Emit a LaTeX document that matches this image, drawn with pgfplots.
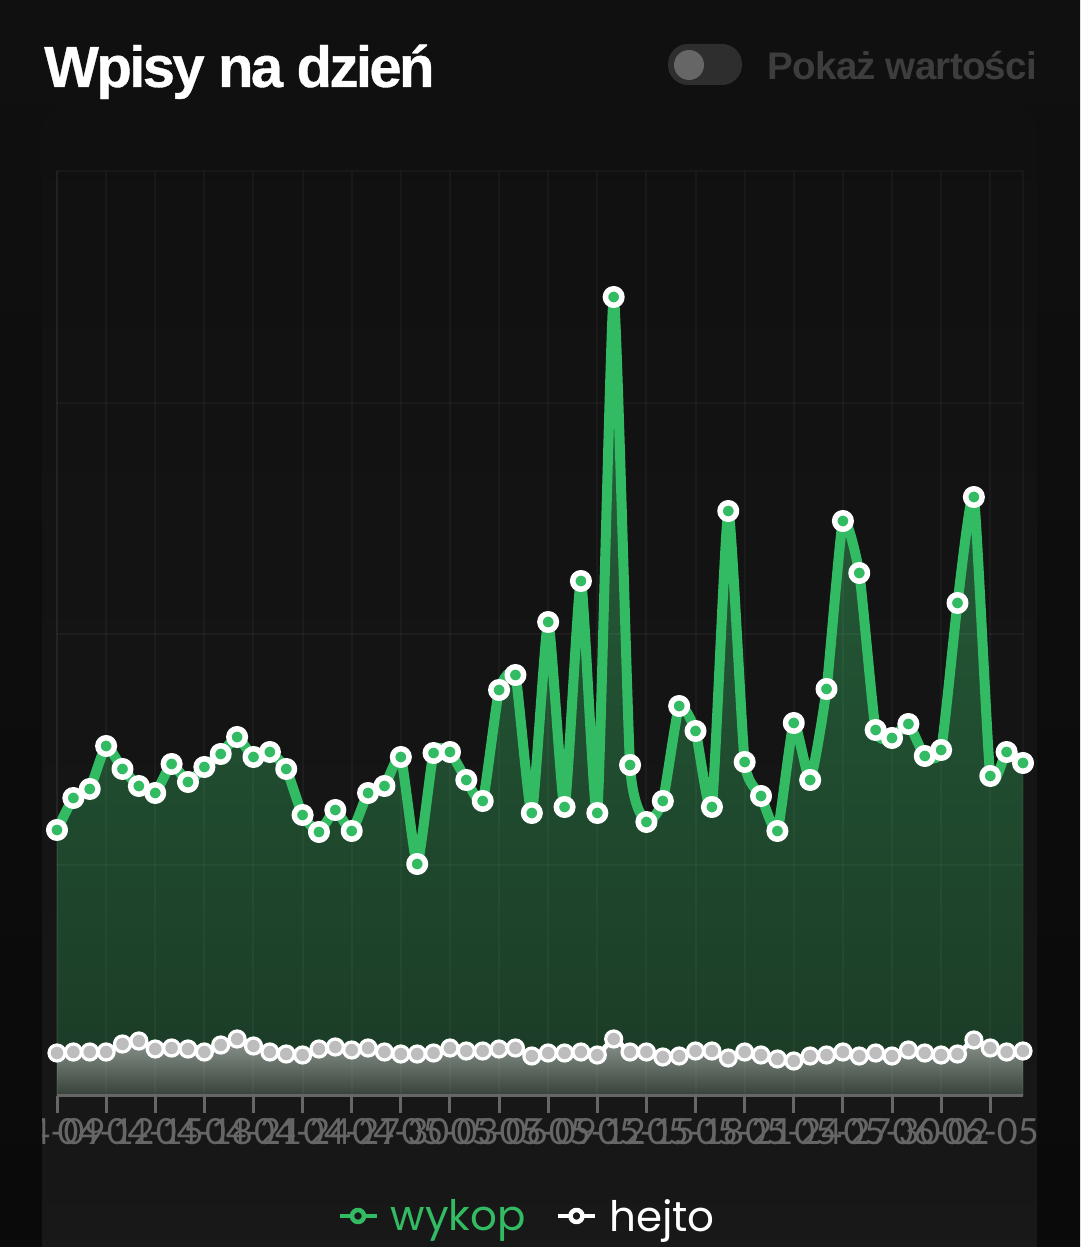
\documentclass[border=0pt]{standalone}
\usepackage{fontspec}
\usepackage{pgfplots}
\usepackage{pgfplotstable}
\pgfplotsset{compat=1.18}
\setmainfont{Lato}
\newfontfamily\titlefont[LetterSpace=-4.5,BoldFeatures={FakeBold=0.6}]{Liberation Sans}
\newfontfamily\subfont[LetterSpace=-2]{Liberation Sans}
\newfontfamily\legfont{Poppins}
\definecolor{outer}{HTML}{0A0A0A}
\definecolor{paneltop}{HTML}{101010}
\definecolor{panelbot}{HTML}{181818}
\definecolor{gridc}{HTML}{FFFFFF}
\definecolor{tickc}{HTML}{666666}
\definecolor{wy}{HTML}{32BB62}
\definecolor{wyt}{HTML}{27633C}
\definecolor{wyb}{HTML}{1B3B26}
\definecolor{het}{HTML}{8C968E}
\definecolor{heb}{HTML}{344038}
\pgfplotstableread{
i wykop hejto
0 266 43
1 298 44
2 307 44
3 350 44
4 327 52
5 310 55
6 303 47
7 332 48
8 314 47
9 329 44
10 342 51
11 359 57
12 339 50
13 344 44
14 327 42
15 281 41
16 264 47
17 286 49
18 265 46
19 303 48
20 310 44
21 339 42
22 232 42
23 343 43
24 344 48
25 316 45
26 295 45
27 406 47
28 421 48
29 283 40
30 474 43
31 289 43
32 515 44
33 283 41
34 799 57
35 331 44
36 274 44
37 295 39
38 390 40
39 365 45
40 289 45
41 585 38
42 334 44
43 300 41
44 265 37
45 373 35
46 316 40
47 407 41
48 575 44
49 523 40
50 366 43
51 358 40
52 372 46
53 340 43
54 346 41
55 493 42
56 599 56
57 320 48
58 344 44
59 333 45
}\datatable
\begin{document}
\begin{tikzpicture}[x=1pt,y=1pt]
\path[use as bounding box,top color=paneltop,bottom color=outer] (0,0) rectangle (1080,1247);
\shade[top color=paneltop,bottom color=panelbot,rounded corners=24pt]
  (42,-30) rectangle (1037,1140);
% title and toggle
\node[anchor=base west,inner sep=0pt,text=white,font={\titlefont\bfseries\fontsize{58}{60}\selectfont}] at (44,1160) {Wpisy na dzień};
\fill[rounded corners=20pt,fill=black!82!white] (668,1162) rectangle (742,1203);
\fill[fill=tickc] (689,1182) circle (15);
\node[anchor=base east,inner sep=0pt,text=white!24!black,font={\subfont\bfseries\fontsize{38.5}{42}\selectfont}] at (1037,1167) {Pokaż wartości};
\begin{scope}
\clip (42,0) rectangle (1037,1247);
\begin{axis}[
  at={(57pt,151pt)},anchor=south west,
  scale only axis,width=966pt,height=925pt,
  xmin=0,xmax=59,ymin=0,ymax=925,
  axis on top,
  separate axis lines,
  axis x line=bottom,
  axis y line=box,
  x axis line style={draw=tickc,line width=3pt,-},
  y axis line style={draw=gridc,draw opacity=0.035,line width=2pt,-},
  xtick={0,3,...,57},
  xticklabels={04-09,04-12,04-15,04-18,04-21,04-24,04-27,04-30,05-03,05-06,05-09,05-12,05-15,05-18,05-21,05-24,05-27,05-30,06-02,06-05},
  xticklabel style={font=\fontsize{36}{38}\selectfont,text=tickc,anchor=north,yshift=-2pt},
  major tick length=17pt,
  tick align=outside,
  xtick style={draw=tickc,line width=3pt},
  ytick={0,231,462,693,925},
  yticklabels={},
  ytick style={draw=none},
  grid=major,
  major grid style={draw=gridc,draw opacity=0.035,line width=2pt},
]
\addplot[draw=none,top color=wyt,bottom color=wyb,smooth,tension=0.3,forget plot] table[x=i,y=wykop]{\datatable} \closedcycle;
\addplot[draw=none,top color=het,bottom color=heb,smooth,tension=0.3,forget plot] table[x=i,y=hejto]{\datatable} \closedcycle;
\end{axis}
\begin{axis}[
  at={(57pt,151pt)},anchor=south west,
  scale only axis,width=966pt,height=925pt,
  xmin=0,xmax=59,ymin=0,ymax=925,
  hide axis,clip=false,
  legend columns=2,
  legend style={at={(0.4855,-0.1297)},anchor=center,draw=none,fill=none,
    font=\legfont\fontsize{42}{45}\selectfont,inner sep=0pt,
    /tikz/every odd column/.append style={column sep=12pt},
    /tikz/every even column/.append style={column sep=30pt},
    nodes={inner sep=0pt}},
]
\addplot[wy,line width=10pt,smooth,tension=0.3,line join=round,
  mark=*,mark size=8.25pt,mark options={draw=white,fill=wy,line width=5.5pt,solid},
  legend image code/.code={
    \draw[wy,line width=4.5pt] (0pt,0pt)--(37pt,0pt);
    \draw[wy,line width=4.5pt,fill=panelbot] (18.5pt,0pt) circle (6pt);
  }] table[x=i,y=wykop]{\datatable};
\addlegendentry{\textcolor{wy}{wykop}}
\addplot[white,line width=5pt,smooth,tension=0.3,line join=round,
  mark=*,mark size=8pt,mark options={draw=white,fill=white!74!black,line width=3.2pt,solid},
  legend image code/.code={
    \draw[white,line width=4.5pt] (0pt,0pt)--(37pt,0pt);
    \draw[white,line width=4.5pt,fill=panelbot] (18.5pt,0pt) circle (6pt);
  }] table[x=i,y=hejto]{\datatable};
\addlegendentry{\textcolor{white}{hejto}}
\end{axis}
\end{scope}
\end{tikzpicture}
\end{document}
